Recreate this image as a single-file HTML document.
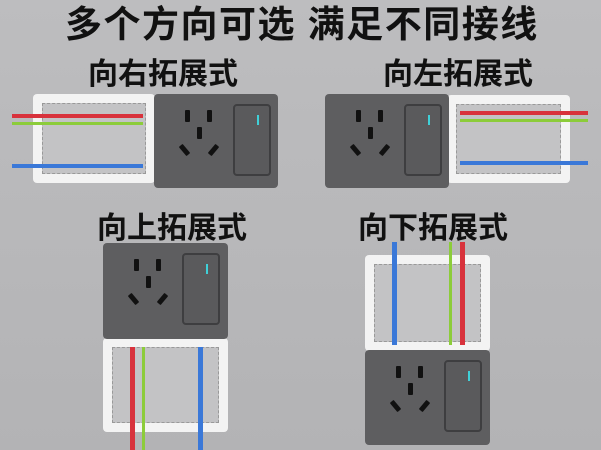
<!DOCTYPE html><html><head><meta charset="utf-8"><style>
body{margin:0;width:601px;height:450px;overflow:hidden;background:linear-gradient(#bdbdbf,#b3b3b5);font-family:"Liberation Sans","Noto Sans CJK SC",sans-serif;position:relative}
.t{position:absolute;font-weight:bold;color:#111;white-space:nowrap}
.p{position:absolute;width:124px;height:94px;background:#5e5e60;border-radius:4px}
.p i{position:absolute;background:#111;border-radius:1px;width:5px;height:12px}
.sw{position:absolute;left:79px;top:10px;width:34px;height:68px;background:#5a5a5c;border:2px solid #3e3e40;border-radius:4px}
.sw b{position:absolute;left:22px;top:9px;width:2px;height:10px;background:#3fd0d8}
.f{position:absolute;background:#f3f3f3;border-radius:4px}
.f div{position:absolute;left:9px;top:9px;right:9px;bottom:9px;background:#c3c3c5;border:1px dashed #999}
.w{position:absolute}
</style></head><body>
<div class="t" style="left:65px;top:-6px;font-size:37px;letter-spacing:1.5px">多个方向可选 满足不同接线</div>
<div class="t" style="left:88px;top:49px;font-size:30px">向右拓展式</div>
<div class="t" style="left:383px;top:49px;font-size:30px">向左拓展式</div>
<div class="t" style="left:97px;top:203px;font-size:30px">向上拓展式</div>
<div class="t" style="left:358px;top:203px;font-size:30px">向下拓展式</div>

<!-- top-left -->
<div class="f" style="left:33px;top:94px;width:122px;height:89px"><div></div></div>
<div class="w" style="left:12px;top:114px;width:131px;height:4px;background:#d8323c"></div>
<div class="w" style="left:12px;top:122px;width:131px;height:3px;background:#8ccc3a"></div>
<div class="w" style="left:12px;top:164px;width:131px;height:4px;background:#3a78d8"></div>
<div class="p" style="left:154px;top:94px"><i style="left:31px;top:16px"></i><i style="left:53px;top:16px"></i><i style="left:43px;top:33px"></i><i style="left:28px;top:50px;transform:rotate(-40deg)"></i><i style="left:57px;top:50px;transform:rotate(40deg)"></i><div class="sw"><b></b></div></div>

<!-- top-right -->
<div class="f" style="left:447px;top:95px;width:123px;height:88px"><div></div></div>
<div class="w" style="left:460px;top:111px;width:128px;height:4px;background:#d8323c"></div>
<div class="w" style="left:460px;top:119px;width:128px;height:3px;background:#8ccc3a"></div>
<div class="w" style="left:460px;top:161px;width:128px;height:4px;background:#3a78d8"></div>
<div class="p" style="left:325px;top:94px"><i style="left:31px;top:16px"></i><i style="left:53px;top:16px"></i><i style="left:43px;top:33px"></i><i style="left:28px;top:50px;transform:rotate(-40deg)"></i><i style="left:57px;top:50px;transform:rotate(40deg)"></i><div class="sw"><b></b></div></div>

<!-- up -->
<div class="f" style="left:103px;top:338px;width:125px;height:94px"><div></div></div>
<div class="w" style="left:130px;top:347px;width:5px;height:103px;background:#d8323c"></div>
<div class="w" style="left:142px;top:347px;width:3px;height:103px;background:#8ccc3a"></div>
<div class="w" style="left:198px;top:347px;width:5px;height:103px;background:#3a78d8"></div>
<div class="p" style="left:103px;top:243px;width:125px;height:96px"><i style="left:31px;top:16px"></i><i style="left:53px;top:16px"></i><i style="left:43px;top:33px"></i><i style="left:28px;top:50px;transform:rotate(-40deg)"></i><i style="left:57px;top:50px;transform:rotate(40deg)"></i><div class="sw"><b></b></div></div>

<!-- down -->
<div class="f" style="left:365px;top:255px;width:125px;height:96px"><div></div></div>
<div class="w" style="left:392px;top:242px;width:5px;height:103px;background:#3a78d8"></div>
<div class="w" style="left:449px;top:242px;width:3px;height:103px;background:#8ccc3a"></div>
<div class="w" style="left:460px;top:242px;width:5px;height:103px;background:#d8323c"></div>
<div class="p" style="left:365px;top:350px;width:125px;height:95px"><i style="left:31px;top:16px"></i><i style="left:53px;top:16px"></i><i style="left:43px;top:33px"></i><i style="left:28px;top:50px;transform:rotate(-40deg)"></i><i style="left:57px;top:50px;transform:rotate(40deg)"></i><div class="sw"><b></b></div></div>
</body></html>
